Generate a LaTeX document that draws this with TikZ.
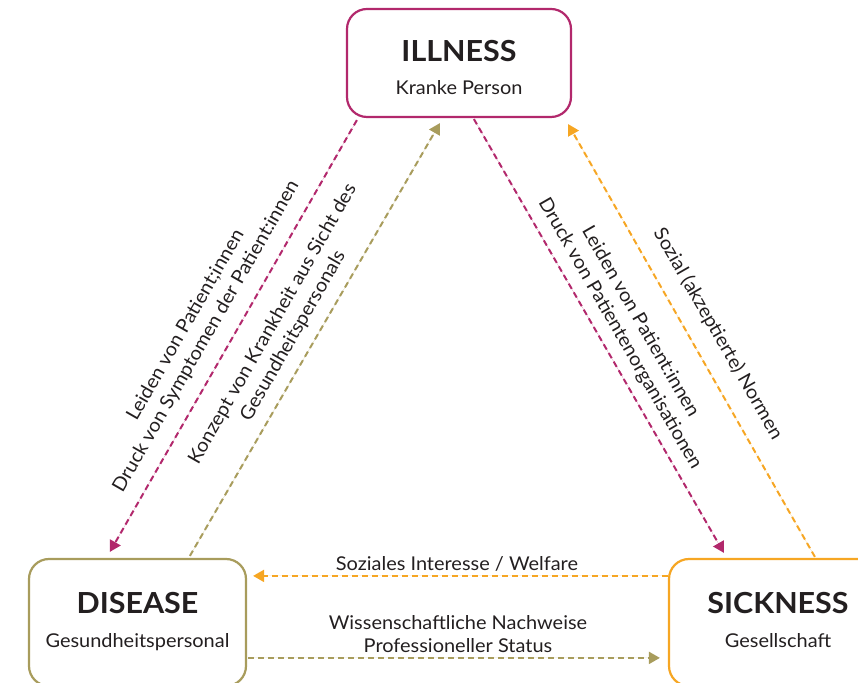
\documentclass[tikz,border=0pt]{standalone}
\usepackage{fontspec}
\setmainfont{Lato}[FakeStretch=1.05]
\usetikzlibrary{arrows.meta,calc}
\definecolor{magentac}{RGB}{178,40,108}
\definecolor{olivec}{RGB}{168,156,92}
\definecolor{orangec}{RGB}{246,166,35}
\definecolor{textc}{RGB}{35,31,32}
\begin{document}
\begin{tikzpicture}[x=1pt,y=1pt,
  box/.style={draw, line width=2.2pt, rounded corners=20pt, fill=white, inner sep=0pt},
  ttl/.style={font=\fontsize{29}{33}\selectfont\bfseries, text=textc, anchor=base, inner sep=0pt},
  sub/.style={font=\fontsize{19}{23}\selectfont, text=textc, anchor=base, inner sep=0pt},
  lbl/.style={font=\fontsize{19}{23.5}\selectfont, text=textc, align=center, inner sep=0pt},
  conn/.style={line width=2pt, dash pattern=on 6pt off 4pt, -{Triangle[length=11pt,width=12pt]}}
]
\useasboundingbox (0,0) rectangle (858,682);
% boxes
\node[box, draw=magentac, minimum width=224pt, minimum height=108pt] (ill) at (459,619) {};
\node[box, draw=olivec, minimum width=217pt, minimum height=127pt] (dis) at (137.5,59.5) {};
\node[box, draw=orangec, minimum width=218pt, minimum height=127pt] (sic) at (778,59.5) {};
% box texts
\node[ttl] (illt) at ($(ill.center)+(0,1)$) {ILLNESS};
\node[sub] (ills) at ($(ill.center)+(0,-32)$) {Kranke Person};
\node[ttl] (dist) at ($(dis.center)+(0,9.5)$) {DISEASE};
\node[sub] (diss) at ($(dis.center)+(0,-24.5)$) {Gesundheitspersonal};
\node[ttl] (sict) at ($(sic.center)+(0,9.5)$) {SICKNESS};
\node[sub] (sics) at ($(sic.center)+(0,-24.5)$) {Gesellschaft};
% connectors
\draw[conn, draw=magentac, fill=magentac] ([shift={(11,-2)}]ill.south west) -- ([shift={(82,6)}]dis.north west);
\draw[conn, draw=olivec, fill=olivec] ([shift={(162,2)}]dis.north west) -- ([shift={(94,-5)}]ill.south west);
\draw[conn, draw=magentac, fill=magentac] ([shift={(128,-1)}]ill.south west) -- ([shift={(56,5)}]sic.north west);
\draw[conn, draw=orangec, fill=orangec] ([shift={(147,1)}]sic.north west) -- ([shift={(-4,-6)}]ill.south east);
\draw[conn, draw=orangec, fill=orangec] ([shift={(0,-18)}]sic.north west) -- ([shift={(6,-18)}]dis.north east);
\draw[conn, draw=olivec, fill=olivec] ([shift={(1,-100)}]dis.north east) -- ([shift={(-8,-100)}]sic.north west);
% labels
\node[lbl, rotate=60.2] (l1) at (196,351) {Leiden von Patient;innen\\Druck von Symptomen der Patient:innen};
\node[lbl, rotate=60.2] (l2) at (283,352) {Konzept von Krankheit aus Sicht des\\Gesundheitspersonals};
\node[lbl, rotate=-60.1] (l3) at (630,354) {Leiden von Patient:innen\\Druck von Patientenorganisationen};
\node[lbl, rotate=-60.1] (l4) at (718,348) {Sozial (akzeptierte) Normen};
\node[lbl, anchor=base] (l5) at (457,111) {Soziales Interesse / Welfare};
\node[lbl, anchor=base] (l6) at (458,53) {Wissenschaftliche Nachweise};
\node[lbl, anchor=base] (l7) at (458,30) {Professioneller Status};
\end{tikzpicture}
\end{document}
